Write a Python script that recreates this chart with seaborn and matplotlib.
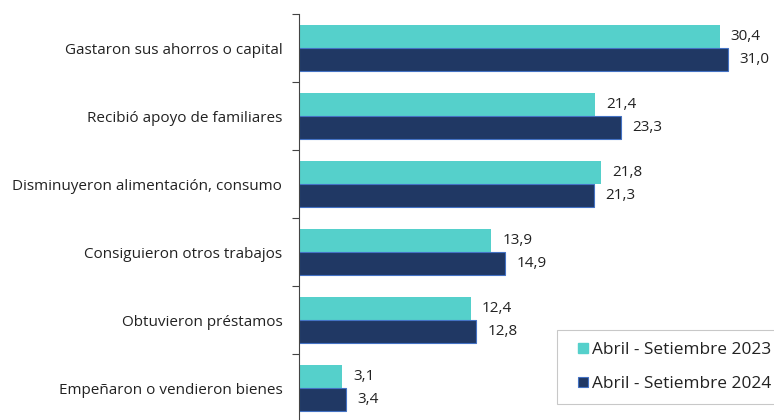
import matplotlib
matplotlib.use("Agg")

import matplotlib.pyplot as plt
import numpy as np
import pandas as pd
import seaborn as sns
from matplotlib.lines import Line2D

# ── Data ─────────────────────────────────────────────────────────────────────
categories = [
    "Gastaron sus ahorros o capital",
    "Recibió apoyo de familiares",
    "Disminuyeron alimentación, consumo",
    "Consiguieron otros trabajos",
    "Obtuvieron préstamos",
    "Empeñaron o vendieron bienes",
]
periods = ["Abril - Setiembre 2023", "Abril - Setiembre 2024"]
values_2023 = [30.4, 21.4, 21.8, 13.9, 12.4, 3.1]
values_2024 = [31.0, 23.3, 21.3, 14.9, 12.8, 3.4]

colors = ["#55D0CB", "#203864"]
edge_2024 = "#4472C4"

df = pd.DataFrame({
    "categoria": categories * 2,
    "periodo": [periods[0]] * len(categories) + [periods[1]] * len(categories),
    "valor": values_2023 + values_2024,
})

# ── Style ────────────────────────────────────────────────────────────────────
sns.set_theme(style="white")
plt.rcParams["font.family"] = ["Open Sans", "DejaVu Sans"]

W, H = 774, 420
fig = plt.figure(figsize=(W / 100, H / 100), dpi=100)
ax = fig.add_axes([299 / W, 1 - 422 / H, (W - 299) / W, (422 - 14) / H])

sns.barplot(
    data=df, x="valor", y="categoria", hue="periodo", order=categories,
    hue_order=periods, palette=colors, saturation=1, orient="h", width=0.68,
    gap=0, edgecolor="none", legend=False, ax=ax,
)

# thin lighter outline on the 2024 bars
for bar in ax.containers[1]:
    bar.set_edgecolor(edge_2024)
    bar.set_linewidth(0.8)

for cont in ax.containers:
    ax.bar_label(cont, labels=[f"{v:.1f}".replace(".", ",") for v in cont.datavalues],
                 padding=8, fontsize=11, color="#222222")

ax.set_xlim(0, (W - 299) / 13.84)
ax.set_ylim(len(categories) - 0.5, -0.5)
ax.set_xlabel("")
ax.set_ylabel("")
ax.set_xticks([])

ax.set_yticks(range(len(categories)))
ax.set_yticklabels(categories, fontsize=11, color="#222222")
ax.tick_params(axis="y", which="major", length=0, pad=12)
ax.set_yticks(np.arange(-0.5, len(categories), 1), minor=True)
ax.tick_params(axis="y", which="minor", length=5, width=0.8, color="#444444", left=True)

for side in ["top", "right", "bottom"]:
    ax.spines[side].set_visible(False)
ax.spines["left"].set_color("#444444")
ax.spines["left"].set_linewidth(0.8)

# legend with small square markers
handles = [
    Line2D([], [], ls="none", marker="s", markersize=6.5, markerfacecolor=colors[0],
           markeredgecolor=colors[0]),
    Line2D([], [], ls="none", marker="s", markersize=6.5, markerfacecolor=colors[1],
           markeredgecolor=edge_2024, markeredgewidth=0.8),
]
leg = ax.legend(
    handles, periods,
    loc="upper left", bbox_to_anchor=(557 / W, 1 - 330 / H),
    bbox_transform=fig.transFigure, fontsize=12.4, frameon=True, fancybox=False,
    edgecolor="#BBBBBB", handlelength=1.6, handletextpad=-0.25,
    labelspacing=1.05, borderpad=0.7, borderaxespad=0,
)
leg.get_frame().set_linewidth(0.8)
for t in leg.get_texts():
    t.set_color("#222222")

fig.savefig("out.png", dpi=100)
